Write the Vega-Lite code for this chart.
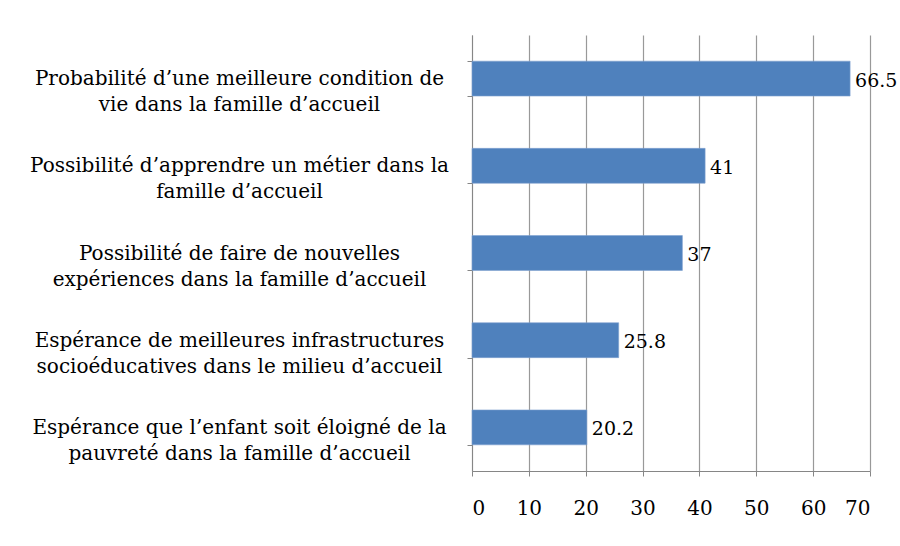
{
  "$schema": "https://vega.github.io/schema/vega-lite/v6.json",
  "autosize": "none",
  "width": 398,
  "height": 436,
  "padding": {"left": 472, "top": 35, "right": 30, "bottom": 75},
  "background": "white",
  "config": {
    "view": {"stroke": null},
    "font": "DejaVu Serif"
  },
  "data": {
    "values": [
      {"motif": "Probabilité d’une meilleure condition de|vie dans la famille d’accueil", "pct": 66.5},
      {"motif": "Possibilité d’apprendre un métier dans la|famille d’accueil", "pct": 41},
      {"motif": "Possibilité de faire de nouvelles|expériences dans la famille d’accueil", "pct": 37},
      {"motif": "Espérance de meilleures infrastructures|socioéducatives dans le milieu d’accueil", "pct": 25.8},
      {"motif": "Espérance que l’enfant soit éloigné de la|pauvreté dans la famille d’accueil", "pct": 20.2}
    ]
  },
  "encoding": {
    "y": {
      "field": "motif",
      "type": "nominal",
      "sort": null,
      "scale": {"paddingInner": 0.6, "paddingOuter": 0.3},
      "axis": {
        "title": null,
        "labelExpr": "split(datum.label, '|')",
        "labelFont": "DejaVu Serif",
        "labelFontSize": 20,
        "labelLineHeight": 26,
        "labelColor": "#000000",
        "labelAlign": "center",
        "labelBaseline": "middle",
        "labelPadding": 228,
        "labelLimit": 0,
        "tickBand": "extent",
        "tickSize": 5,
        "tickColor": "#868686",
        "domainColor": "#868686",
        "grid": false
      }
    },
    "x": {
      "field": "pct",
      "type": "quantitative",
      "scale": {"domain": [0, 70], "nice": false},
      "axis": {
        "title": null,
        "values": [0, 10, 20, 30, 40, 50, 60, 70],
        "labelFont": "DejaVu Serif",
        "labelFontSize": 20,
        "labelColor": "#000000",
        "labelPadding": 22,
        "tickSize": 5,
        "tickColor": "#868686",
        "domainColor": "#868686",
        "grid": true,
        "gridColor": "#999999",
        "gridWidth": 1.2
      }
    }
  },
  "layer": [
    {
      "mark": {"type": "bar", "color": "#4F81BD", "stroke": "#7FA1D0", "strokeWidth": 0.6}
    },
    {
      "mark": {"type": "text", "align": "left", "baseline": "middle", "dx": 5, "dy": 2, "fontSize": 19, "font": "DejaVu Serif", "color": "#000000", "clip": false},
      "encoding": {"text": {"field": "pct", "type": "quantitative"}}
    }
  ]
}
